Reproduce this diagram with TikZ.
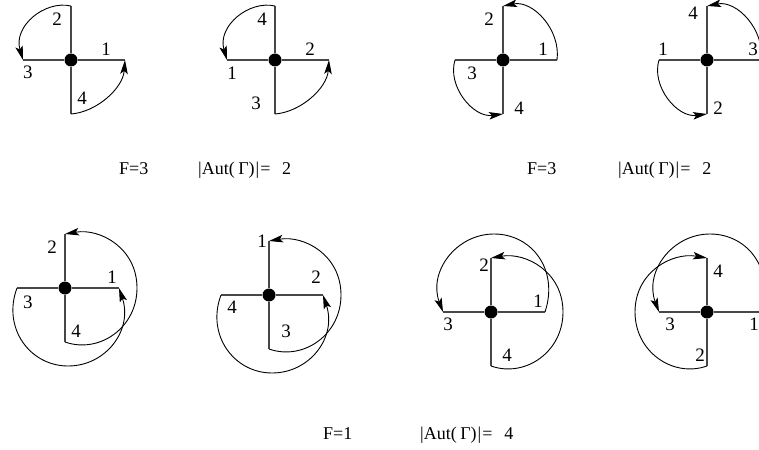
\documentclass[tikz,border=0pt]{standalone}
\usepackage{fontspec}
\setmainfont{Liberation Serif}
\usetikzlibrary{arrows.meta}
\tikzset{
  dotnode/.style={circle,fill=black,draw=none,minimum size=13pt,inner sep=0pt},
  lab/.style={inner sep=0pt,font=\fontsize{19}{20}\selectfont},
  captext/.style={inner sep=0pt,anchor=base west,font=\fontsize{18}{20}\selectfont},
  spoke/.style={line width=1.2pt,draw=black!72},
  arcline/.style={line width=0.9pt,draw=black},
  arcarrow/.style={arcline,-{Stealth[length=14pt,width=7.5pt,inset=3pt]}}
}
% one vertex with four half edges and the way points of its big arcs
\newcommand{\petal}[3]{%
  \node[dotnode] (#1-c) at (#2,#3) {};
  \coordinate (#1-r) at (#2+54,#3);
  \coordinate (#1-l) at (#2-48,#3);
  \coordinate (#1-t) at (#2,#3-54);
  \coordinate (#1-b) at (#2,#3+54);
  \coordinate (#1-e) at (#2+72,#3);
  \coordinate (#1-w) at (#2-72,#3);
  \coordinate (#1-u) at (#2+3,#3-78);
  \coordinate (#1-d) at (#2+3,#3+78);
  \draw[spoke] (#1-c) -- (#1-r);
  \draw[spoke] (#1-c) -- (#1-l);
  \draw[spoke] (#1-c) -- (#1-t);
  \draw[spoke] (#1-c) -- (#1-b);
}
\newcommand{\autcap}[4]{\node[captext] (#1) at (#2,#3) {|Aut(\hspace{3.5pt}Γ)\hspace{1pt}|\hspace{1pt}=\hspace{11.8pt}#4};}
\begin{document}
\begin{tikzpicture}[x=1pt,y=-1pt]
\clip (0,0) rectangle (759,449);
\fill[white] (0,0) rectangle (759,449);
\petal{a}{71}{60}
\petal{b}{275}{60}
\petal{c}{503}{60}
\petal{d}{707}{60}
\petal{e}{65}{288}
\petal{f}{269}{295}
\petal{g}{491}{312}
\petal{h}{707}{312}
% top row
\draw[arcarrow] (a-t) .. controls +(-26,-6) and +(-10,-34) .. (a-l);
\draw[arcarrow] (a-b) .. controls +(26,-2) and +(-2,28) .. (a-r);
\draw[arcarrow] (b-t) .. controls +(-26,-6) and +(-10,-34) .. (b-l);
\draw[arcarrow] (b-b) .. controls +(26,-2) and +(-2,28) .. (b-r);
\draw[arcarrow] (c-r) .. controls +(4,-30) and +(30,-6) .. (c-t);
\draw[arcarrow] (c-l) .. controls +(-8,26) and +(-30,4) .. (c-b);
\draw[arcarrow] (d-r) .. controls +(4,-30) and +(30,-6) .. (d-t);
\draw[arcarrow] (d-l) .. controls +(-8,26) and +(-30,4) .. (d-b);
% bottom row
\draw[arcline] (e-b) .. controls +(34,12) and +(0,40) .. (e-e);
\draw[arcarrow] (e-e) .. controls +(0,-40) and +(35,-6) .. (e-t);
\draw[arcline] (e-l) .. controls +(-15,40) and +(-38,0) .. (e-d);
\draw[arcarrow] (e-d) .. controls +(38,0) and +(14,42) .. (e-r);
\draw[arcline] (f-b) .. controls +(34,12) and +(0,40) .. (f-e);
\draw[arcarrow] (f-e) .. controls +(0,-40) and +(35,-6) .. (f-t);
\draw[arcline] (f-l) .. controls +(-15,40) and +(-38,0) .. (f-d);
\draw[arcarrow] (f-d) .. controls +(38,0) and +(14,42) .. (f-r);
\draw[arcline] (g-r) .. controls +(14,-42) and +(38,0) .. (g-u);
\draw[arcarrow] (g-u) .. controls +(-38,0) and +(-15,-40) .. (g-l);
\draw[arcline] (g-b) .. controls +(34,12) and +(0,40) .. (g-e);
\draw[arcarrow] (g-e) .. controls +(0,-40) and +(35,-6) .. (g-t);
\draw[arcline] (h-r) .. controls +(14,-42) and +(38,0) .. (h-u);
\draw[arcarrow] (h-u) .. controls +(-38,0) and +(-15,-40) .. (h-l);
\draw[arcline] (h-b) .. controls +(-34,12) and +(0,40) .. (h-w);
\draw[arcarrow] (h-w) .. controls +(0,-40) and +(-35,-6) .. (h-t);
% half edge labels
\node[lab] (a2) at (57,19) {2};
\node[lab] (a1) at (106,49) {1};
\node[lab] (a3) at (28,72) {3};
\node[lab] (a4) at (82,98) {4};
\node[lab] (b4) at (262,19) {4};
\node[lab] (b2) at (310,49) {2};
\node[lab] (b1) at (232,73) {1};
\node[lab] (b3) at (256,103) {3};
\node[lab] (c2) at (489,19) {2};
\node[lab] (c1) at (543,49) {1};
\node[lab] (c3) at (472,73) {3};
\node[lab] (c4) at (519,108) {4};
\node[lab] (d4) at (693,13) {4};
\node[lab] (d1) at (663,49) {1};
\node[lab] (d3) at (753,49) {3};
\node[lab] (d2) at (718,108) {2};
\node[lab] (e2) at (52,247) {2};
\node[lab] (e1) at (112,277) {1};
\node[lab] (e3) at (28,302) {3};
\node[lab] (e4) at (76,331) {4};
\node[lab] (f1) at (262,241) {1};
\node[lab] (f2) at (316,277) {2};
\node[lab] (f4) at (232,307) {4};
\node[lab] (f3) at (286,331) {3};
\node[lab] (g2) at (484,265) {2};
\node[lab] (g1) at (538,301) {1};
\node[lab] (g3) at (448,324) {3};
\node[lab] (g4) at (507,355) {4};
\node[lab] (h4) at (718,271) {4};
\node[lab] (h3) at (670,324) {3};
\node[lab] (h1) at (754,324) {1};
\node[lab] (h2) at (700,355) {2};
% captions
\node[captext] (f3a) at (119,175) {F=3};
\autcap{aut1}{198}{175}{2}
\node[captext] (f3b) at (527,175) {F=3};
\autcap{aut2}{618}{175}{2}
\node[captext] (f1a) at (323,439) {F=1};
\autcap{aut3}{420}{439}{4}
\end{tikzpicture}
\end{document}
